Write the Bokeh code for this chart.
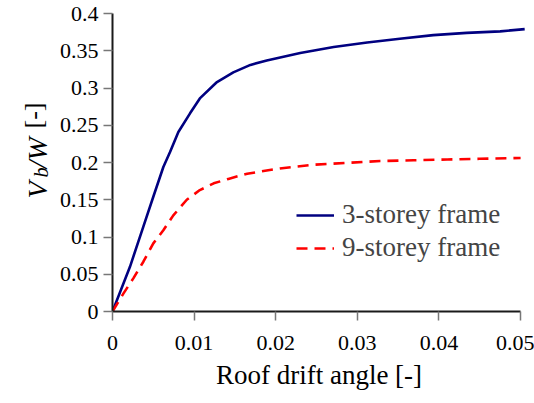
from math import pi
from bokeh.plotting import figure
from bokeh.layouts import row
from bokeh.models import Legend, LegendItem, FixedTicker, Range1d
from bokeh.core.properties import value
from bokeh.embed import file_html
from bokeh.resources import INLINE

# ---- data ----
drift_3 = [0, 0.00214, 0.00378, 0.0050, 0.00623, 0.00705, 0.00807, 0.0095, 0.0107,
           0.0128, 0.0148, 0.0169, 0.0189, 0.0230, 0.0271, 0.0312, 0.0352, 0.0393,
           0.0434, 0.0475, 0.0505]
vbw_3 = [0, 0.060, 0.114, 0.154, 0.194, 0.214, 0.241, 0.266, 0.286,
         0.308, 0.321, 0.331, 0.337, 0.347, 0.355, 0.361, 0.366, 0.371,
         0.374, 0.376, 0.379]

drift_9 = [0, 0.00133, 0.00255, 0.00378, 0.0050, 0.00623, 0.00745, 0.0091, 0.0107,
           0.0124, 0.0142, 0.0165, 0.0205, 0.0246, 0.0287, 0.0328, 0.0369, 0.0410,
           0.0450, 0.0500]
vbw_9 = [0, 0.024, 0.0445, 0.0668, 0.0914, 0.109, 0.129, 0.150, 0.163,
         0.172, 0.178, 0.185, 0.192, 0.197, 0.1995, 0.202, 0.203, 0.204,
         0.205, 0.206]

series_names = ["3-storey frame", "9-storey frame"]

x_ticks = [0, 0.01, 0.02, 0.03, 0.04, 0.05]
x_tick_labels = ["0", "0.01", "0.02", "0.03", "0.04", "0.05"]
y_ticks = [0, 0.05, 0.1, 0.15, 0.2, 0.25, 0.3, 0.35, 0.4]
y_tick_labels = ["0", "0.05", "0.1", "0.15", "0.2", "0.25", "0.3", "0.35", "0.4"]

x_title = "Roof drift angle [-]"
y_title_parts = ["V", "b", "/W", "[-]"]
y_title_styles = ["italic", "italic", "italic", "normal"]

FONT = "Liberation Serif"
TITLE_W = 55
H = 403
TOP, BOTTOM = 13, 92

# ---- y-axis title strip (its frame matches the main frame vertically) ----
yt = figure(width=TITLE_W, height=H, x_range=Range1d(0, TITLE_W),
            y_range=Range1d(BOTTOM, H - TOP),
            output_backend="svg", toolbar_location=None,
            min_border_left=0, min_border_right=0,
            min_border_top=TOP, min_border_bottom=BOTTOM,
            x_axis_type=None, y_axis_type=None)
yt.outline_line_color = None
yt.background_fill_color = "white"
yt.border_fill_color = "white"
# (baseline x, end y, size) for each part, strip pixels measured from the bottom;
# each part is anchored at its far (upper) end
part_pos = [(36.5, 222.1, "28px"), (40, 236, "20px"), (36.5, 266.1, "28px"),
            (32.5, 301, "26px")]
for t, st, (bx, by, fs) in zip(y_title_parts, y_title_styles, part_pos):
    yt.text(x=[bx], y=[by], text=[t], angle=pi / 2, text_font=value(FONT),
            text_font_size=value(fs), text_font_style=st, text_align="right",
            text_baseline="alphabetic", text_color="black")

# ---- main chart ----
p = figure(width=534 - TITLE_W, height=H, output_backend="svg", toolbar_location=None,
           x_range=Range1d(0, 0.0506), y_range=Range1d(0, 0.4),
           min_border_left=112 - TITLE_W, min_border_right=9, min_border_top=TOP,
           min_border_bottom=BOTTOM)
p.outline_line_color = None
p.xgrid.grid_line_color = None
p.ygrid.grid_line_color = None
p.background_fill_color = "white"
p.border_fill_color = "white"

r3 = p.line(drift_3, vbw_3, line_color="#000080", line_width=2.6)
r9 = p.line(drift_9, vbw_9, line_color="#ff0000", line_width=2.6, line_dash="11 7")

for ax in (p.xaxis[0], p.yaxis[0]):
    ax.axis_line_color = "#1a1a1a"
    ax.axis_line_width = 2
    ax.major_tick_line_color = "#777777"
    ax.major_tick_line_width = 1.5
    ax.major_tick_out = 9
    ax.major_tick_in = 0
    ax.minor_tick_line_color = None
    ax.major_label_text_font = FONT
    ax.major_label_text_font_size = "22px"
    ax.major_label_text_color = "black"

p.xaxis.ticker = FixedTicker(ticks=x_ticks)
p.xaxis.major_label_overrides = dict(zip(x_ticks, x_tick_labels))
p.xaxis.bounds = (0, 0.05)
p.xaxis.major_label_standoff = 15
p.xaxis.axis_label = x_title
p.xaxis.axis_label_text_font = FONT
p.xaxis.axis_label_text_font_size = "27px"
p.xaxis.axis_label_text_font_style = "normal"
p.xaxis.axis_label_text_color = "black"
p.xaxis.axis_label_standoff = 7

p.yaxis.ticker = FixedTicker(ticks=y_ticks)
p.yaxis.major_label_overrides = dict(zip(y_ticks, y_tick_labels))
p.yaxis.major_label_standoff = 5

legend = Legend(items=[LegendItem(label=series_names[0], renderers=[r3]),
                       LegendItem(label=series_names[1], renderers=[r9])],
                location=(184, 48), padding=0, margin=0, border_line_color=None,
                background_fill_alpha=0, glyph_width=38, glyph_height=20,
                label_standoff=8, spacing=2, label_text_font=FONT,
                label_text_font_size="27px")
p.add_layout(legend)

layout = row(yt, p)
open("out.html", "w").write(file_html(layout, INLINE))
